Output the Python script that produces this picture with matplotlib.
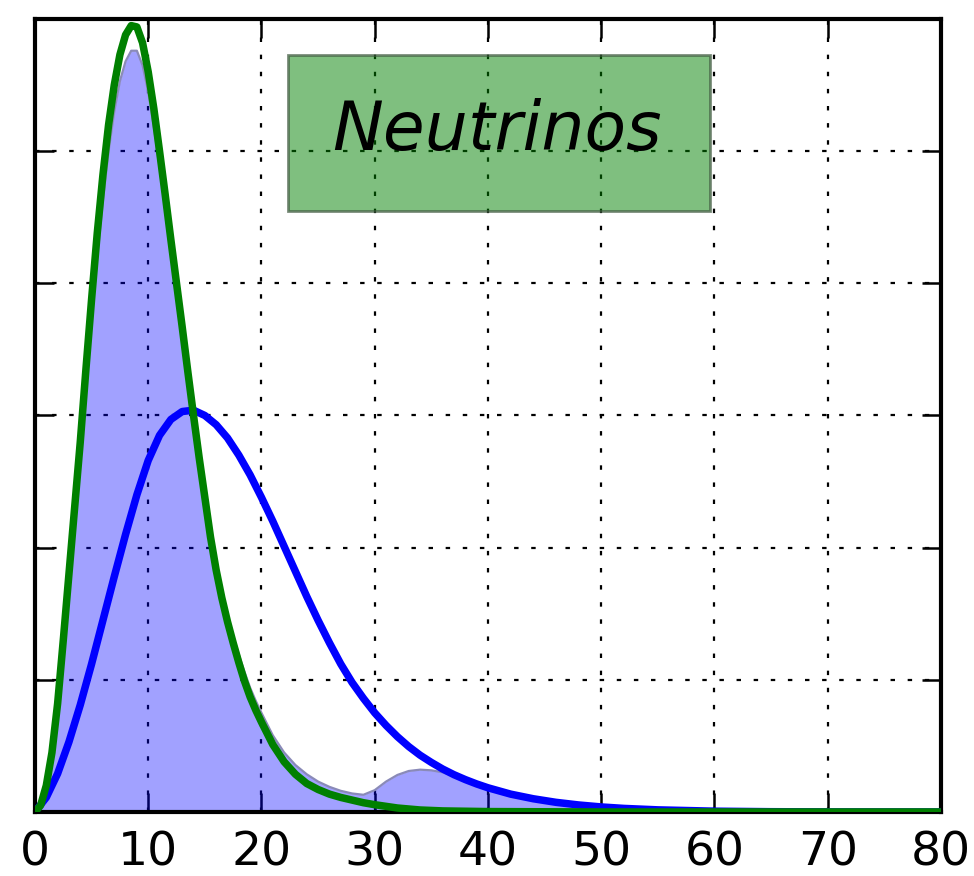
import matplotlib

matplotlib.use("Agg")
import matplotlib.pyplot as plt
from matplotlib.patches import Rectangle

# energy axis (arbitrary units) and spectrum heights read per series
green_x = [
    0, 0.5, 1, 1.5, 2, 2.5, 3, 3.5, 4, 4.5, 5, 5.5, 6, 6.5, 7, 7.5, 8, 8.5, 9, 9.5,
    10, 10.5, 11, 11.5, 12, 12.5, 13, 13.5, 14, 14.5, 15, 15.5, 16, 16.5, 17, 17.5,
    18, 18.5, 19, 19.5, 20,
    21, 22, 23, 24, 25, 26, 27, 28, 29, 30, 32, 34, 36, 40, 50, 60, 70, 80,
]
green_y = [
    0, 0.05, 0.2, 0.45, 0.82, 1.3, 1.8, 2.3, 2.8, 3.35, 3.88, 4.38, 4.82, 5.2, 5.5,
    5.73, 5.88, 5.95, 5.94, 5.82, 5.6, 5.32, 5.0, 4.67, 4.33, 4.0, 3.67, 3.33, 3.0,
    2.68, 2.38, 2.08, 1.83, 1.62, 1.44, 1.28, 1.13, 0.99, 0.87, 0.77, 0.68,
    0.51, 0.38, 0.285, 0.215, 0.17, 0.135, 0.11, 0.09, 0.07, 0.055, 0.03, 0.015,
    0.008, 0.003, 0, 0, 0, 0,
]

total_x = [
    0, 0.5, 1, 1.5, 2, 2.5, 3, 3.5, 4, 4.5, 5, 5.5, 6, 6.5, 7, 7.5, 8, 8.5, 9, 9.5,
    10, 10.5, 11, 11.5, 12, 12.5, 13, 13.5, 14, 14.5, 15, 15.5, 16, 16.5, 17, 17.5,
    18, 18.5, 19, 19.5, 20,
    21, 22, 23, 24, 25, 26, 27, 28, 29, 30, 31, 32, 33, 34, 35, 36, 37, 38, 39, 40,
    42, 44, 46, 48, 50, 55, 60, 70, 80,
]
total_y = [
    0, 0.05, 0.19, 0.43, 0.78, 1.24, 1.73, 2.22, 2.7, 3.22, 3.73, 4.2, 4.63, 5.0,
    5.3, 5.53, 5.68, 5.76, 5.76, 5.65, 5.45, 5.18, 4.88, 4.56, 4.24, 3.92, 3.6,
    3.28, 2.97, 2.66, 2.37, 2.1, 1.86, 1.66, 1.48, 1.33, 1.19, 1.06, 0.94, 0.84,
    0.75,
    0.58, 0.45, 0.355, 0.285, 0.23, 0.19, 0.16, 0.14, 0.13, 0.165, 0.23, 0.28,
    0.31, 0.32, 0.315, 0.3, 0.272, 0.24, 0.205, 0.175,
    0.13, 0.095, 0.068, 0.048, 0.033, 0.012, 0.004, 0, 0,
]

blue_x = [
    0, 1, 2, 3, 4, 5, 6, 7, 8, 9, 10, 11, 12, 13, 14, 15, 16, 17, 18, 19, 20,
    21, 22, 23, 24, 25, 26, 27, 28, 29, 30, 31, 32, 33, 34, 35, 36, 37, 38, 39, 40,
    42, 44, 46, 48, 50, 52, 55, 60, 65, 70, 80,
]
blue_y = [
    0, 0.11, 0.29, 0.53, 0.81, 1.12, 1.45, 1.78, 2.1, 2.4, 2.66, 2.85, 2.97, 3.03,
    3.04, 3.0, 2.93, 2.83, 2.7, 2.55, 2.38,
    2.2, 2.01, 1.82, 1.63, 1.45, 1.28, 1.12, 0.98, 0.86, 0.75, 0.655, 0.57, 0.495,
    0.43, 0.375, 0.325, 0.282, 0.245, 0.212, 0.183,
    0.135, 0.1, 0.073, 0.053, 0.038, 0.027, 0.016, 0.006, 0.002, 0.0005, 0,
]

x_ticks = [0, 10, 20, 30, 40, 50, 60, 70, 80]
y_ticks = [0, 1, 2, 3, 4, 5, 6]

fig = plt.figure(figsize=(9.74, 8.76), dpi=100)
ax = fig.add_axes([0.0359, 0.0731, 0.9302, 0.9052])

line_kw = dict(solid_joinstyle="round", solid_capstyle="round")
ax.fill_between(total_x, total_y, color="blue", alpha=0.37, linewidth=0, zorder=2)
ax.plot(total_x, total_y, color="#8a8ab8", linewidth=1.6, zorder=2.5, **line_kw)
ax.plot(blue_x, blue_y, color="blue", linewidth=5.4, zorder=3, **line_kw)
ax.plot(green_x, green_y, color="green", linewidth=5.4, zorder=4, **line_kw)

ax.add_patch(Rectangle((22.3, 4.55), 37.3, 1.18, facecolor=(0, 0.5, 0, 0.5),
                       edgecolor=(0.25, 0.35, 0.25, 0.7), linewidth=2, zorder=5))
ax.text(40.8, 5.01, "Neutrinos", fontsize=49, style="italic", ha="center",
        va="baseline", zorder=6)

ax.set_xlim(0, 80)
ax.set_ylim(0, 6)
ax.set_xticks(x_ticks)
ax.set_yticks(y_ticks)
ax.set_xticklabels([str(t) for t in x_ticks])
ax.tick_params(direction="in", length=14, width=1.8, top=True, right=True,
               labelleft=False, labelsize=34, pad=13)
ax.grid(True, color="black", linestyle=(0, (2, 5.7)), linewidth=1.6)
ax.set_axisbelow(True)
for spine in ax.spines.values():
    spine.set_linewidth(3)

fig.savefig("out.png", dpi=100)
